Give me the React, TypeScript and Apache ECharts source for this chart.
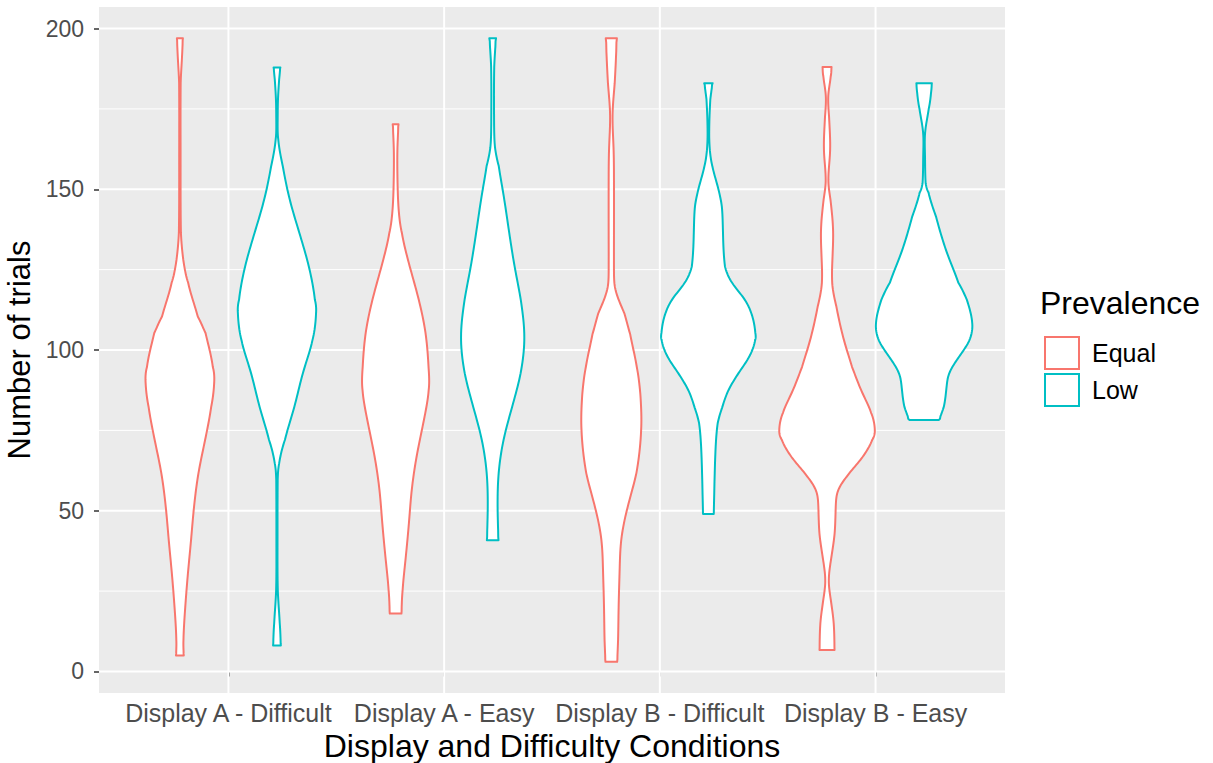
import React, { useEffect, useRef } from "react";
import * as echarts from "echarts";

// ---------- data ----------
const categories = ["Display A - Difficult", "Display A - Easy", "Display B - Difficult", "Display B - Easy"];
const prevalence = ["Equal", "Low"];
const yTicks = [0, 50, 100, 150, 200];
const yMinorGrid = [25, 75, 125, 175];
const xGrid = [1, 2, 3, 4];

// violin outlines: [number of trials, relative half-width (1 = widest violin)]
const equalADifficult = [[5, 0.08], [9.7, 0.07], [20, 0.11], [30.5, 0.165], [40.8, 0.23], [51.2, 0.29], [61.7, 0.38], [72, 0.52], [82.3, 0.65], [89.7, 0.71], [94.7, 0.69], [105.3, 0.52], [110.4, 0.38], [120.9, 0.16], [128, 0.07], [136.5, 0.02], [160, 0.015], [183, 0.015], [190, 0.04], [197, 0.062]];
const equalAEasy = [[18, 0.12], [25.2, 0.14], [35.6, 0.21], [46.1, 0.275], [56.4, 0.33], [66.8, 0.43], [77.2, 0.57], [87.5, 0.69], [94.7, 0.68], [105.3, 0.62], [115.6, 0.48], [126, 0.29], [136.5, 0.12], [144, 0.06], [152, 0.04], [162, 0.035], [170.2, 0.06]];
const equalBDifficult = [[3, 0.12], [10, 0.14], [20, 0.15], [30.5, 0.17], [41, 0.2], [51, 0.33], [61.7, 0.52], [75, 0.62], [86, 0.6], [94.7, 0.53], [105, 0.38], [111.3, 0.27], [115.6, 0.15], [119.7, 0.07], [124, 0.055], [137, 0.055], [150, 0.055], [162, 0.05], [173, 0.02], [183, 0.07], [197, 0.115]];
const equalBEasy = [[6.7, 0.155], [15, 0.14], [22, 0.08], [28.4, 0.03], [35.6, 0.09], [43, 0.16], [51.2, 0.18], [56.4, 0.22], [61.7, 0.46], [66.8, 0.74], [72, 0.94], [75, 0.99], [80.4, 0.92], [87.5, 0.7], [94.7, 0.52], [104, 0.33], [113.5, 0.19], [120.9, 0.1], [131, 0.12], [138.4, 0.125], [146.8, 0.07], [153, 0.02], [162.4, 0.07], [172.7, 0.04], [179, 0.02], [185, 0.08], [188, 0.093]];
const lowADifficult = [[8.1, 0.08], [15, 0.06], [25.2, 0.015], [40, 0.012], [59.5, 0.015], [64.8, 0.04], [72, 0.155], [82.3, 0.36], [92.8, 0.53], [103, 0.74], [111.5, 0.81], [115.6, 0.79], [126, 0.66], [136.5, 0.46], [146.8, 0.26], [157, 0.12], [165.5, 0.02], [172, 0.015], [178, 0.02], [184, 0.045], [187.9, 0.07]];
const lowAEasy = [[40.8, 0.12], [51.2, 0.1], [61.7, 0.12], [72, 0.22], [82.3, 0.4], [92.8, 0.58], [104, 0.66], [115.6, 0.58], [126, 0.45], [136.5, 0.34], [146.8, 0.24], [157.2, 0.12], [163, 0.045], [170, 0.03], [188, 0.03], [197, 0.07]];
const lowBDifficult = [[49, 0.11], [55, 0.12], [61.7, 0.13], [70, 0.15], [77.2, 0.19], [82, 0.28], [87.5, 0.41], [92.8, 0.62], [98, 0.85], [103, 0.97], [105.3, 0.97], [110.4, 0.91], [115.6, 0.76], [120.9, 0.48], [126, 0.34], [136.5, 0.3], [144.7, 0.28], [151, 0.19], [157, 0.08], [162, 0.03], [168, 0.015], [178, 0.04], [183, 0.087]];
const lowBEasy = [[78.2, 0.3], [82.4, 0.41], [88, 0.46], [92.8, 0.51], [97.9, 0.72], [103, 0.94], [108.4, 1.0], [115.6, 0.88], [120.9, 0.72], [131, 0.45], [141.5, 0.24], [149, 0.08], [152, 0.03], [160, 0.02], [167.6, 0.015], [175, 0.1], [180, 0.145], [183, 0.16]];

const equalViolins = [equalADifficult, equalAEasy, equalBDifficult, equalBEasy];
const lowViolins = [lowADifficult, lowAEasy, lowBDifficult, lowBEasy];

const COLORS = { Equal: "#F8766D", Low: "#00BFC4" };
const DODGE = 0.225; // offset of each violin from category centre (x units)
const MAXHALF = 0.225; // half-width of the widest violin (x units)
const FONT = "'Liberation Sans', Arial, Helvetica, sans-serif";

// smooth a profile for drawing: cubic Hermite of width as a function of value, then a light box filter
function densify(prof: number[][], steps = 10): number[][] {
  const n = prof.length;
  const slope = (i: number) => {
    const a = prof[Math.max(i - 1, 0)];
    const b = prof[Math.min(i + 1, n - 1)];
    return (b[1] - a[1]) / (b[0] - a[0]);
  };
  const out: number[][] = [];
  for (let i = 0; i < n - 1; i++) {
    const [v1, w1] = prof[i];
    const [v2, w2] = prof[i + 1];
    const h = v2 - v1;
    const m1 = slope(i);
    const m2 = slope(i + 1);
    for (let s = 0; s < steps; s++) {
      const t = s / steps;
      const t2 = t * t, t3 = t2 * t;
      const w = (2 * t3 - 3 * t2 + 1) * w1 + (t3 - 2 * t2 + t) * h * m1 + (-2 * t3 + 3 * t2) * w2 + (t3 - t2) * h * m2;
      out.push([v1 + t * h, Math.max(0.006, w)]);
    }
  }
  out.push(prof[n - 1]);
  let cur = out;
  for (let pass = 0; pass < 2; pass++) {
    const next = cur.map((p, i) => {
      if (i === 0 || i === cur.length - 1) return p;
      let sum = 0, cnt = 0;
      for (let k = -3; k <= 3; k++) {
        const j = i + k;
        if (j >= 0 && j < cur.length) { sum += cur[j][1]; cnt++; }
      }
      return [p[0], Math.max(0.006, sum / cnt)];
    });
    cur = next;
  }
  return cur;
}

function violinSeries(name: "Equal" | "Low", profiles: number[][][], offset: number) {
  const color = COLORS[name];
  return {
    type: "custom",
    name,
    z: 5,
    clip: false,
    itemStyle: { color },
    data: xGrid.map((c) => [c, offset]),
    renderItem: (params: any, api: any) => {
      const prof = densify(profiles[params.dataIndex]);
      const xc = api.value(0) + api.value(1);
      const right = prof.map(([v, w]) => api.coord([xc + w * MAXHALF, v]));
      const left = prof.map(([v, w]) => api.coord([xc - w * MAXHALF, v])).reverse();
      return {
        type: "polygon",
        shape: { points: right.concat(left) },
        style: { fill: "#ffffff", stroke: color, lineWidth: 2, lineJoin: "round" },
      };
    },
  };
}

function hGridSeries(values: number[], width: number) {
  return {
    type: "custom",
    silent: true,
    z: 1,
    data: values.map((v) => [1, v]),
    renderItem: (params: any, api: any) => {
      const cs = params.coordSys;
      const p = api.coord([1, api.value(1)]);
      return {
        type: "line",
        shape: { x1: cs.x, y1: p[1], x2: cs.x + cs.width, y2: p[1] },
        style: { stroke: "#ffffff", lineWidth: width },
      };
    },
  };
}

function vGridSeries(values: number[], width: number) {
  return {
    type: "custom",
    silent: true,
    z: 1,
    data: values.map((v) => [v, 100]),
    renderItem: (params: any, api: any) => {
      const cs = params.coordSys;
      const p = api.coord([api.value(0), 100]);
      return {
        type: "line",
        shape: { x1: p[0], y1: cs.y, x2: p[0], y2: cs.y + cs.height },
        style: { stroke: "#ffffff", lineWidth: width },
      };
    },
  };
}

export default function App() {
  const ref = useRef<HTMLDivElement>(null);
  useEffect(() => {
    if (!ref.current) return;
    const chart = echarts.init(ref.current, null, { renderer: "svg" });
    chart.setOption({
      animation: false,
      textStyle: { fontFamily: FONT },
      grid: {
        left: 99, right: 208, top: 7, bottom: 70,
        show: true, backgroundColor: "#EBEBEB", borderWidth: 0,
        containLabel: false, outerBoundsMode: "none",
      },
      xAxis: {
        type: "value",
        min: 0.4,
        max: 4.6,
        axisLine: { show: false },
        splitLine: { show: false },
        axisTick: { show: true, customValues: xGrid, length: 5, lineStyle: { color: "#333333", width: 1.5 } },
        axisLabel: {
          customValues: xGrid,
          formatter: (v: number) => categories[Math.round(v) - 1] ?? "",
          color: "#4D4D4D",
          fontSize: 25,
          fontFamily: FONT,
          margin: 7,
        },
        name: "Display and Difficulty Conditions",
        nameLocation: "middle",
        nameGap: 37,
        nameTextStyle: { color: "#000000", fontSize: 32, fontFamily: FONT },
      },
      yAxis: {
        type: "value",
        min: -6.7,
        max: 206.7,
        axisLine: { show: false },
        splitLine: { show: false },
        axisTick: { show: true, customValues: yTicks, length: 5, lineStyle: { color: "#333333", width: 1.5 } },
        axisLabel: { customValues: yTicks, color: "#4D4D4D", fontSize: 23, fontFamily: FONT, margin: 15 },
        name: "Number of trials",
        nameLocation: "middle",
        nameGap: 57,
        nameTextStyle: { color: "#000000", fontSize: 31, fontFamily: FONT },
      },
      legend: {
        orient: "vertical",
        left: 1039,
        top: 331,
        itemWidth: 34,
        itemHeight: 32,
        itemGap: 3,
        icon: "rect",
        selectedMode: false,
        textStyle: { fontSize: 25, color: "#000000", fontFamily: FONT, padding: [0, 0, 0, 8] },
        data: prevalence.map((p) => ({
          name: p,
          itemStyle: { color: "#ffffff", borderColor: COLORS[p as "Equal" | "Low"], borderWidth: 2 },
        })),
      },
      graphic: [
        {
          type: "text",
          left: 1040,
          top: 287,
          style: { text: "Prevalence", fontSize: 32, fill: "#000000", fontFamily: FONT },
        },
      ],
      series: [
        hGridSeries(yMinorGrid, 1),
        hGridSeries(yTicks, 2),
        vGridSeries(xGrid, 2),
        violinSeries("Equal", equalViolins, -DODGE),
        violinSeries("Low", lowViolins, DODGE),
      ],
    });
    return () => chart.dispose();
  }, []);
  return <div ref={ref} style={{ position: "absolute", left: 0, top: 0, width: 1213, height: 763 }} />;
}
